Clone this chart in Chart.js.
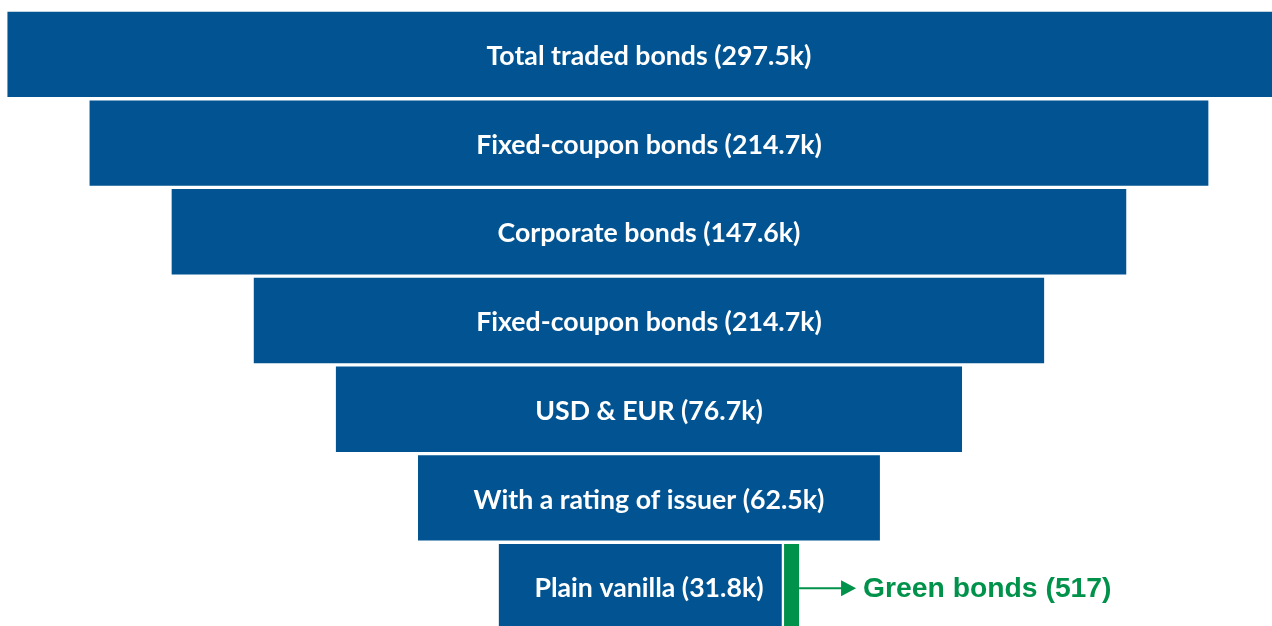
<!DOCTYPE html>
<html>
<head>
<meta charset="utf-8">
<script src="https://cdn.jsdelivr.net/npm/chart.js@4/dist/chart.umd.min.js"></script>
<style>
    html, body { margin: 0; padding: 0; background: #fff; overflow: hidden; }
    .chart-wrap { position: relative; width: 1272px; height: 632px; }
</style>
</head>
<body>
<div class="chart-wrap"><canvas id="funnelChart"></canvas></div>
<script>
// funnel stages (top to bottom)
var stages = ['Total traded bonds', 'Fixed-coupon bonds', 'Corporate bonds', 'Fixed-coupon bonds',
    'USD & EUR', 'With a rating of issuer', 'Plain vanilla'];
// number of bonds in thousands
var counts = [297.5, 214.7, 147.6, 214.7, 76.7, 62.5, 31.8];
// funnel width of each stage, % of top stage
var funnelWidth = [100, 87.2, 74.4, 61.6, 48.8, 36.0, 23.4];
// green bonds, split off the last stage
var greenLabel = 'Green bonds';
var greenCount = 517;

var blue = '#015391';
var green = '#00924b';
var greenBarW = 1.17;   // width of green strip, % units
var greenGap = 0.18;

var last = stages.length - 1;
var blueData = funnelWidth.map(function (w, i) {
    if (i === last) return [-w / 2, w / 2 - greenBarW - greenGap];
    return [-w / 2, w / 2];
});
var greenData = funnelWidth.map(function (w, i) {
    return i === last ? [w / 2 - greenBarW, w / 2] : null;
});

// labels inside bars + green call-out
var funnelLabels = {
    id: 'funnelLabels',
    afterDatasetsDraw: function (chart) {
        var ctx = chart.ctx;
        var cx = chart.scales.x.getPixelForValue(0);
        var bars = chart.getDatasetMeta(0).data;
        ctx.save();
        ctx.fillStyle = '#fff';
        ctx.font = 'bold 26.7px Lato';
        ctx.textAlign = 'center';
        ctx.textBaseline = 'middle';
        bars.forEach(function (bar, i) {
            ctx.fillText(stages[i] + ' (' + counts[i] + 'k)', cx, bar.y + 2);
        });

        var gBar = chart.getDatasetMeta(1).data[last];
        var x0 = gBar.x, y0 = gBar.y + 1.5;
        var tip = x0 + 57;
        ctx.strokeStyle = green;
        ctx.fillStyle = green;
        ctx.lineWidth = 2;
        ctx.beginPath();
        ctx.moveTo(x0, y0);
        ctx.lineTo(tip - 14, y0);
        ctx.stroke();
        ctx.beginPath();
        ctx.moveTo(tip - 15, y0 - 8);
        ctx.lineTo(tip, y0);
        ctx.lineTo(tip - 15, y0 + 8);
        ctx.closePath();
        ctx.fill();

        ctx.font = 'bold 28.3px "Liberation Sans", Arial, sans-serif';
        ctx.textAlign = 'left';
        ctx.fillText(greenLabel + ' (' + greenCount + ')', tip + 7, y0 + 1);
        ctx.restore();
    }
};

var ctx = document.getElementById('funnelChart');
if (ctx) {
    var chart = new Chart(ctx, {
        type: 'bar',
        data: {
            labels: stages,
            datasets: [{
                data: blueData,
                backgroundColor: blue,
                borderWidth: 0,
                grouped: false,
                barPercentage: 0.962,
                categoryPercentage: 1
            }, {
                data: greenData,
                backgroundColor: green,
                borderWidth: 0,
                grouped: false,
                barPercentage: 0.962,
                categoryPercentage: 1
            }]
        },
        options: {
            indexAxis: 'y',
            responsive: true,
            maintainAspectRatio: false,
            animation: false,
            layout: { padding: { top: 10, bottom: 1, left: 0, right: 0 } },
            scales: {
                x: { type: 'linear', min: -50.58, max: 48.56, display: false },
                y: { display: false }
            },
            plugins: {
                legend: { display: false },
                tooltip: { enabled: false }
            }
        },
        plugins: [funnelLabels]
    });
}
</script>
</body>
</html>
